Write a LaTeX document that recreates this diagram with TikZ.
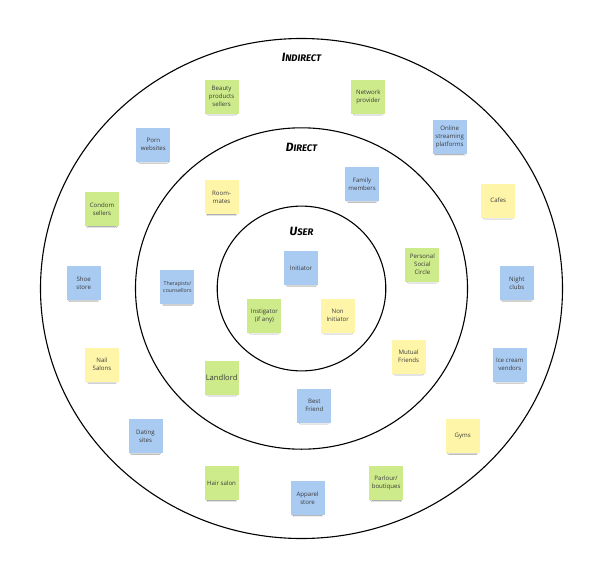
\documentclass[tikz,border=0pt]{standalone}
\usepackage{fontspec}
\setmainfont{Open Sans}
\newfontfamily\ttlfont{Fira Sans}
\usetikzlibrary{shadows.blur}
\definecolor{nblue}{HTML}{A9CBF2}
\definecolor{ngreen}{HTML}{CDEB8B}
\definecolor{nyellow}{HTML}{FEF5A8}
\definecolor{ntext}{HTML}{3A3A3A}
\tikzset{
  note/.style={minimum width=34pt, minimum height=34pt, inner sep=1pt, align=center,
    text=ntext, font=\fontsize{6.1}{8}\selectfont,
    blur shadow={shadow xshift=0pt, shadow yshift=-3.6pt, shadow scale=0.82,
      shadow opacity=50, shadow blur steps=8, shadow blur radius=2pt}},
  bnote/.style={note, fill=nblue},
  gnote/.style={note, fill=ngreen},
  ynote/.style={note, fill=nyellow},
  ring/.style={draw=black, line width=1.1pt},
  ttl/.style={font=\ttlfont\bfseries\itshape, text=black}
}
\newcommand{\capbig}[1]{{\fontsize{12}{12}\selectfont #1}}
\newcommand{\capsmall}[1]{{\fontsize{9.5}{12}\selectfont #1}}
\begin{document}
\begin{tikzpicture}[x=1pt,y=-1pt]
\useasboundingbox (0,0) rectangle (599,575);
\fill[white] (0,0) rectangle (599,575);
% rings
\coordinate (c) at (301.5,288.5);
\draw[ring] (c) ellipse [x radius=261pt, y radius=250pt];
\draw[ring] (c) ellipse [x radius=166pt, y radius=160.7pt];
\draw[ring] (c) ellipse [x radius=84.3pt, y radius=82.4pt];
% titles
\node[ttl] (tind) at (301.5,57.5) {\capbig{I}\capsmall{NDIRECT}};
\node[ttl] (tdir) at (301.5,147.5) {\capbig{D}\capsmall{IRECT}};
\node[ttl] (tuse) at (301.5,231) {\capbig{U}\capsmall{SER}};
% inner
\node[bnote] (initiator) at (301.1,268) {Initiator};
\node[gnote] (instigator) at (264.4,315.5) {Instigator\\(if any)};
\node[ynote] (noninit) at (337.7,315.5) {Non\\Initiator};
% direct
\node[ynote] (roommates) at (221.6,197.2) {Room-\\mates};
\node[bnote] (family) at (362.1,183.9) {Family\\members};
\node[gnote] (social) at (422.4,264.5) {Personal\\Social\\Circle};
\node[bnote, font=\fontsize{5.3}{7.2}\selectfont] (therap) at (177.4,287.1) {Therapists/\\counsellors};
\node[ynote] (mutual) at (408.6,356.6) {Mutual\\Friends};
\node[gnote, font=\fontsize{7.6}{9}\selectfont] (landlord) at (221.6,377.6) {Landlord};
\node[bnote] (bestf) at (314.3,405.5) {Best\\Friend};
% indirect
\node[gnote] (beauty) at (221.6,96.6) {Beauty\\products\\sellers};
\node[gnote] (network) at (368.3,96.6) {Network\\provider};
\node[bnote] (online) at (449.7,137.3) {Online\\streaming\\platforms};
\node[bnote] (porn) at (153.4,144.7) {Porn\\websites};
\node[ynote] (cafes) at (498.3,200.5) {Cafes};
\node[gnote] (condom) at (102,209.2) {Condom\\sellers};
\node[bnote] (shoe) at (83.7,283.1) {Shoe\\store};
\node[bnote] (night) at (516.9,283.1) {Night\\clubs};
\node[ynote] (nail) at (102,364.7) {Nail\\Salons};
\node[bnote] (icecream) at (509.8,364.7) {Ice cream\\vendors};
\node[bnote] (dating) at (145.5,435.9) {Dating\\sites};
\node[ynote] (gyms) at (462.7,435.9) {Gyms};
\node[gnote] (hair) at (221.6,483.2) {Hair salon};
\node[gnote] (parlour) at (386.1,483.2) {Parlour/\\boutiques};
\node[bnote] (apparel) at (307.6,498.3) {Apparel\\store};
\end{tikzpicture}
\end{document}
